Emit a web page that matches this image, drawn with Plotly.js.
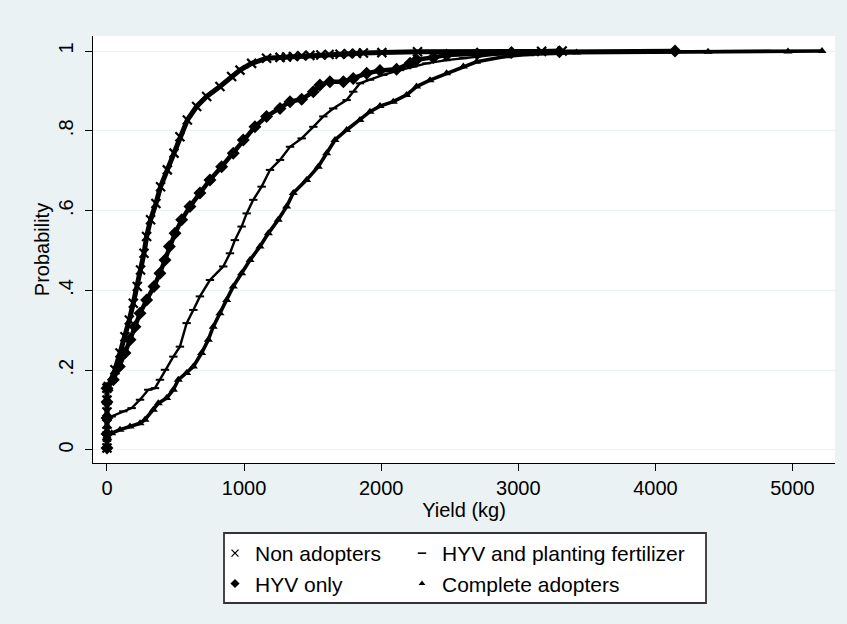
<!DOCTYPE html>
<html>
<head>
<meta charset="utf-8">
<script src="https://cdn.plot.ly/plotly-3.0.1.min.js"></script>
<style>html,body{margin:0;padding:0;background:#eaf2f3;}#chart{width:847px;height:624px;}</style>
</head>
<body>
<div id="chart"></div>
<script>
// ---- data (yield in kg, cumulative probability) ----
const nonAdoptersYield = [0,0,0,0,0,0,10,58,95,131,163,192,221,245,270,289,318,357,391,440,489,532,586,654,727,824,909,970,1055,1164,1262,1310,1360,1420,1480,1560,1620,1700,1760,1820,1870,2005,2265,3170,3320];
const nonAdoptersProb  = [0.005,0.035,0.065,0.095,0.125,0.155,0.159,0.201,0.243,0.284,0.326,0.368,0.410,0.451,0.493,0.535,0.577,0.618,0.660,0.702,0.744,0.785,0.827,0.861,0.886,0.911,0.936,0.952,0.969,0.982,0.984,0.985,0.986,0.988,0.989,0.990,0.991,0.992,0.993,0.994,0.995,0.996,0.998,0.999,1.0];

const hyvOnlyYield = [0,0,0,0,0,46,90,131,168,204,241,289,343,386,423,455,496,545,605,678,751,836,921,994,1079,1164,1262,1335,1420,1505,1553,1626,1724,1796,1894,1991,2112,2210,2258,2380,2477,2700,2950,3300,4143];
const hyvOnlyProb  = [0.005,0.04,0.08,0.12,0.155,0.176,0.209,0.243,0.276,0.309,0.343,0.376,0.410,0.443,0.476,0.510,0.543,0.577,0.610,0.644,0.677,0.710,0.744,0.777,0.810,0.836,0.856,0.873,0.879,0.898,0.915,0.923,0.923,0.931,0.944,0.951,0.954,0.969,0.978,0.984,0.990,0.993,0.996,0.998,1.0];

const hyvFertYield = [0,0,0,0,34,119,180,241,301,350,386,423,484,532,581,630,678,751,848,897,933,982,1019,1067,1128,1189,1262,1335,1420,1505,1578,1650,1748,1796,1845,1918,2015,2137,2234,2331,2477,2599,2700,2810,2930,3250,3660,3720,4843];
const hyvFertProb  = [0.005,0.03,0.055,0.08,0.084,0.097,0.105,0.126,0.151,0.155,0.176,0.201,0.234,0.259,0.318,0.351,0.385,0.426,0.460,0.493,0.526,0.560,0.593,0.627,0.660,0.702,0.727,0.760,0.781,0.810,0.836,0.856,0.877,0.898,0.919,0.928,0.940,0.952,0.961,0.969,0.977,0.982,0.986,0.990,0.993,0.996,0.997,0.998,1.0];

const completeYield = [0,0,0,34,95,168,241,277,338,374,435,484,520,581,630,690,739,775,824,873,921,982,1043,1116,1177,1249,1310,1359,1456,1541,1602,1663,1748,1845,1918,1991,2088,2185,2258,2356,2477,2599,2696,2915,3085,3425,4384,4967,5215];
const completeProb  = [0.005,0.025,0.04,0.042,0.051,0.059,0.067,0.076,0.101,0.117,0.130,0.151,0.176,0.193,0.209,0.243,0.276,0.309,0.343,0.376,0.410,0.443,0.476,0.510,0.543,0.577,0.610,0.644,0.677,0.710,0.744,0.777,0.802,0.827,0.848,0.862,0.873,0.890,0.911,0.927,0.944,0.961,0.973,0.987,0.992,0.996,0.998,0.999,1.0];

const seriesNames = ['Non adopters', 'HYV only', 'HYV and planting fertilizer', 'Complete adopters'];
const xTickVals = [0, 1000, 2000, 3000, 4000, 5000];
const xTickText = ['0', '1000', '2000', '3000', '4000', '5000'];
const yTickVals = [0, 0.2, 0.4, 0.6, 0.8, 1];
const yTickText = ['0', '.2', '.4', '.6', '.8', '1'];

const FONT = 'Liberation Sans, Arial, sans-serif';
const BG = 'rgb(234,242,243)';

// markers on the curves (dense, heavy look of the original)
const plotMarkers = [
  {symbol: 'x-thin', size: 9, color: 'black', line: {color: 'black', width: 2.2}},
  {symbol: 'diamond', size: 10, color: 'black', line: {color: 'black', width: 0}},
  {symbol: 'line-ew', size: 6, color: 'black', line: {color: 'black', width: 2}},
  {symbol: 'triangle-up', size: 8, color: 'black', line: {color: 'black', width: 0}}
];
// smaller markers for the legend key
const keyMarkers = [
  {symbol: 'x-thin', size: 7, color: 'black', line: {color: 'black', width: 1.3}},
  {symbol: 'diamond', size: 7, color: 'black', line: {color: 'black', width: 0}},
  {symbol: 'line-ew', size: 6, color: 'black', line: {color: 'black', width: 1.6}},
  {symbol: 'triangle-up', size: 6, color: 'black', line: {color: 'black', width: 0}}
];
const lineWidths = [5, 4.5, 2.4, 3.6];
const xs = [nonAdoptersYield, hyvOnlyYield, hyvFertYield, completeYield];
const ys = [nonAdoptersProb, hyvOnlyProb, hyvFertProb, completeProb];
const legendOf = ['legend', 'legend', 'legend2', 'legend2'];

const traces = [];
for (let i = 0; i < 4; i++) {
  traces.push({
    type: 'scatter', mode: 'lines+markers',
    x: xs[i], y: ys[i], name: seriesNames[i],
    line: {color: 'black', width: lineWidths[i], shape: 'linear'},
    marker: plotMarkers[i], showlegend: false, hoverinfo: 'skip'
  });
}
// legend entries (marker only, as in the reference key)
for (let i = 0; i < 4; i++) {
  traces.push({
    type: 'scatter', mode: 'markers', x: [null], y: [null], name: seriesNames[i],
    marker: keyMarkers[i], showlegend: true, legend: legendOf[i], hoverinfo: 'skip'
  });
}

const legendCommon = {
  orientation: 'v', xanchor: 'left', yanchor: 'top',
  bgcolor: 'rgba(0,0,0,0)', borderwidth: 0,
  font: {family: FONT, size: 21, color: 'black'}
};

const layout = {
  width: 847, height: 624,
  paper_bgcolor: BG, plot_bgcolor: 'white',
  margin: {l: 93, r: 12, t: 36, b: 161, pad: 0},
  font: {family: FONT, size: 20, color: 'black'},
  xaxis: {
    range: [-102, 5310], tickvals: xTickVals, ticktext: xTickText,
    showgrid: false, zeroline: false, showline: true, linecolor: 'black', linewidth: 1,
    ticks: 'outside', ticklen: 7, tickcolor: 'black', tickfont: {family: FONT, size: 20, color: 'black'},
    ticklabelstandoff: 0,
    title: {text: 'Yield (kg)', font: {family: FONT, size: 20, color: 'black'}, standoff: 0},
    automargin: false
  },
  yaxis: {
    range: [-0.0326, 1.0376], tickvals: yTickVals, ticktext: yTickText, tickangle: -90,
    showgrid: true, gridcolor: BG, gridwidth: 1, zeroline: false,
    showline: true, linecolor: 'black', linewidth: 1,
    ticks: 'outside', ticklen: 7, tickcolor: 'black', tickfont: {family: FONT, size: 20, color: 'black'},
    ticklabelstandoff: 4,
    title: {text: 'Probability', font: {family: FONT, size: 20, color: 'black'}, standoff: 0},
    automargin: false
  },
  legend: Object.assign({}, legendCommon, {x: (215 - 93) / 742, y: (463 - 533) / 427}),
  legend2: Object.assign({}, legendCommon, {x: (402 - 93) / 742, y: (463 - 533) / 427}),
  shapes: [{
    type: 'rect', xref: 'paper', yref: 'paper', layer: 'below',
    x0: (224 - 93) / 742, x1: (706 - 93) / 742,
    y0: (463 - 603) / 427, y1: (463 - 533) / 427,
    fillcolor: 'white', line: {color: '#333333', width: 1.8}
  }],
  showlegend: true
};

Plotly.newPlot('chart', traces, layout, {displayModeBar: false, staticPlot: true});
</script>
</body>
</html>
